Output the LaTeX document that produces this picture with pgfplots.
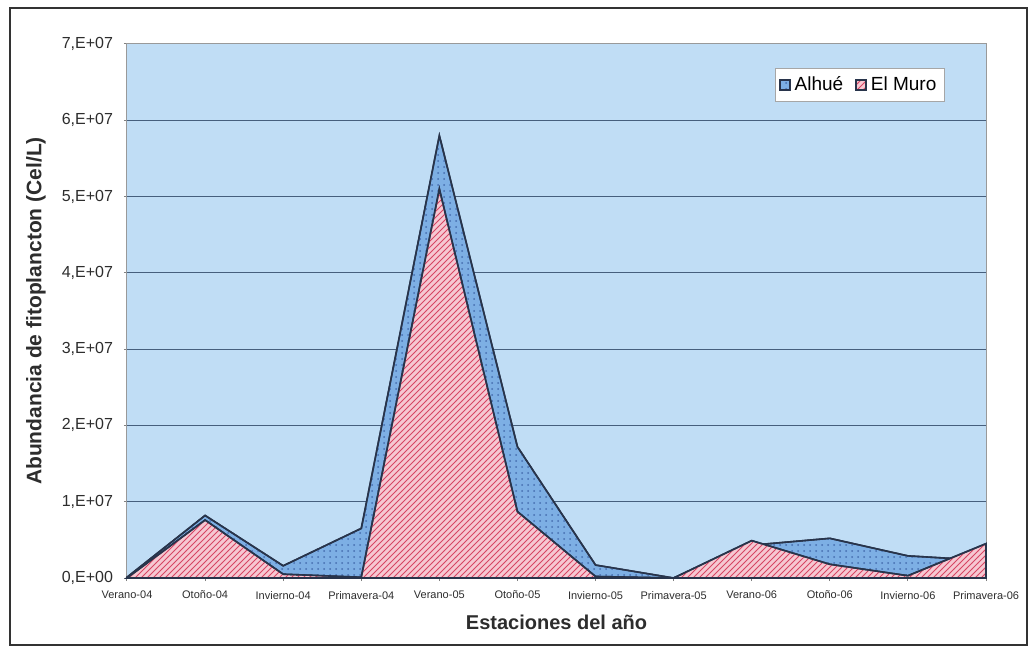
\documentclass[border=0pt]{standalone}
\usepackage{pgfplots}
\pgfplotsset{compat=1.18}
\usepackage{fontspec}
\setmainfont{Liberation Sans}
\usetikzlibrary{patterns}
\definecolor{plotbg}{RGB}{192,221,245}
\definecolor{alhuefill}{RGB}{125,175,228}
\definecolor{alhuedot}{RGB}{70,110,175}
\definecolor{murofill}{RGB}{246,200,210}
\definecolor{murohatch}{RGB}{215,70,100}
\definecolor{edge}{RGB}{40,52,75}
\definecolor{gridc}{RGB}{70,95,125}
\definecolor{txt}{RGB}{45,45,45}

\begin{document}
\begin{tikzpicture}
\path[use as bounding box, fill=white] (-63.5pt,-34.5pt) rectangle (452pt,289pt);
\begin{axis}[
    scale only axis,
    width=429.5pt, height=267pt,
    xmin=0, xmax=11,
    ymin=0, ymax=7e7,
    scaled y ticks=false,
    xtick={0,...,11},
    xticklabels={Verano-04,Otoño-04,Invierno-04,Primavera-04,Verano-05,Otoño-05,Invierno-05,Primavera-05,Verano-06,Otoño-06,Invierno-06,Primavera-06},
    ytick={0,1e7,2e7,3e7,4e7,5e7,6e7,7e7},
    yticklabels={{0,E+00},{1,E+07},{2,E+07},{3,E+07},{4,E+07},{5,E+07},{6,E+07},{7,E+07}},
    xticklabel style={font=\fontsize{5.5}{6}\selectfont, text=txt, yshift=-1.5pt},
    yticklabel style={font=\fontsize{8}{9}\selectfont, text=txt, xshift=-2pt},
    xtick pos=bottom, ytick pos=left,
    tick align=outside,
    major tick length=1.5pt,
    tick style={gray, line width=0.5pt},
    ymajorgrids,
    grid style={gridc, line width=0.5pt},
    axis background/.style={fill=plotbg},
    axis line style={gray!80, line width=0.5pt},
    every axis x label/.style={at={(axis description cs:0.5,0)}, yshift=-22pt, anchor=center},
    every axis y label/.style={at={(axis description cs:0,0.5)}, xshift=-45.5pt, rotate=90, anchor=center},
    xlabel={\bfseries Estaciones del año},
    ylabel={\bfseries Abundancia de fitoplancton (Cel/L)},
    xlabel style={font=\fontsize{10}{12}\selectfont\bfseries, text=txt},
    ylabel style={font=\fontsize{10.5}{12}\selectfont\bfseries, text=txt},
    legend columns=2,
    legend style={at={(0.952,0.955)}, anchor=north east, draw=gray!70, fill=white,
        font=\fontsize{9.5}{11}\selectfont, inner xsep=2pt, inner ysep=2pt,
        /tikz/every even column/.append style={column sep=4pt}},
    legend image code/.code={\draw[#1] (0pt,-2.5pt) rectangle (5pt,2.5pt);},
    clip=false,
]
% Alhue (behind)
\addplot[draw=edge, line width=0.8pt, fill=alhuefill,
    postaction={pattern=dots, pattern color=alhuedot}] coordinates {
    (0,0.1e6) (1,8.2e6) (2,1.6e6) (3,6.5e6) (4,58e6) (5,17.2e6)
    (6,1.7e6) (7,0) (8,4.3e6) (9,5.2e6) (10,2.9e6) (11,2.3e6)
} \closedcycle;
\addlegendentry{Alhué}
% El Muro (front)
\addplot[draw=edge, line width=0.8pt, fill=murofill,
    postaction={pattern=north east lines, pattern color=murohatch}] coordinates {
    (0,0) (1,7.6e6) (2,0.5e6) (3,0.1e6) (4,51e6) (5,8.7e6)
    (6,0.2e6) (7,0) (8,4.9e6) (9,1.8e6) (10,0.3e6) (11,4.5e6)
} \closedcycle;
\addlegendentry{El Muro}
\end{axis}
\draw[line width=1pt, black!80] (-58.5pt,-33.5pt) rectangle (450pt,285pt);
\end{tikzpicture}
\end{document}
